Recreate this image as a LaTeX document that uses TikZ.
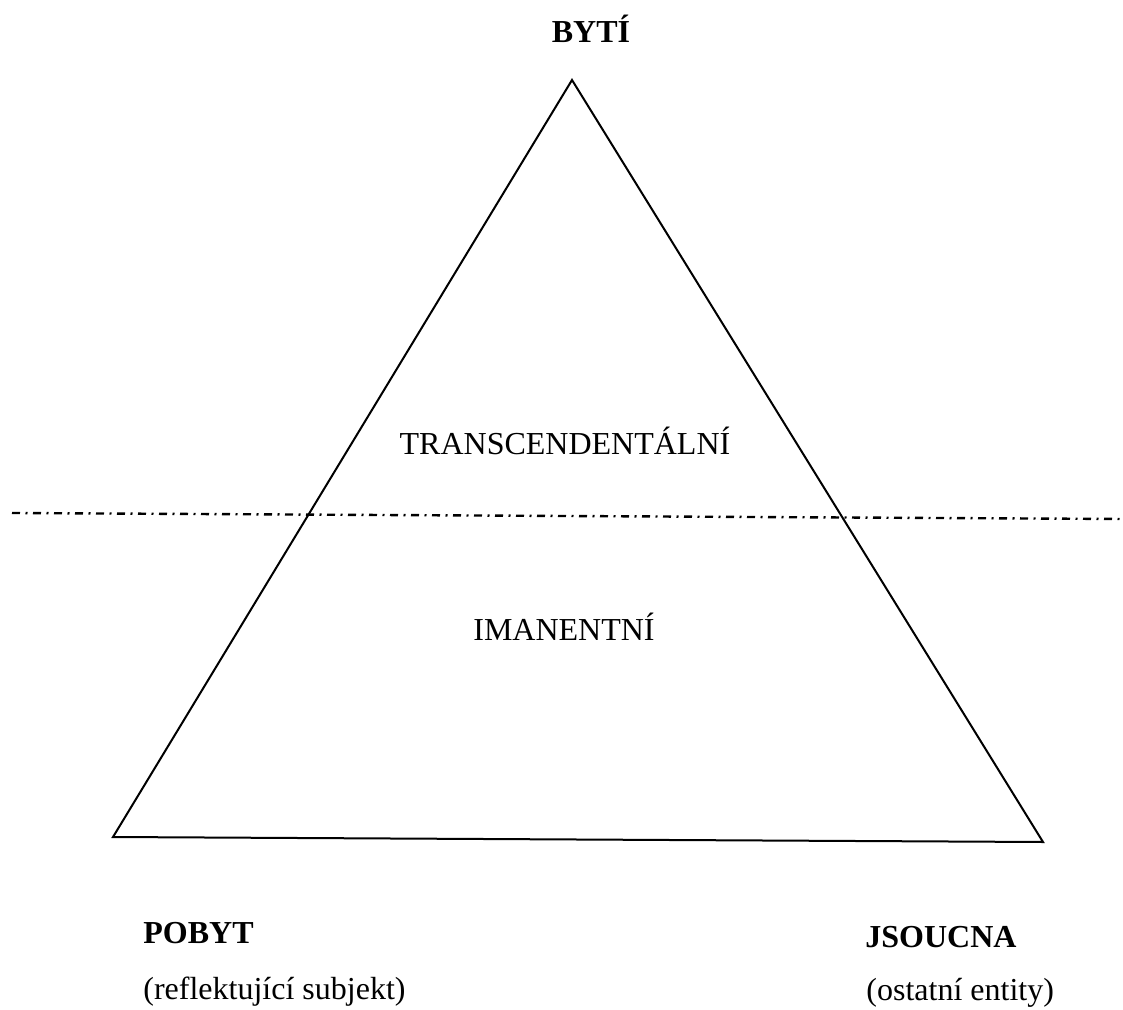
\documentclass[tikz,border=0pt]{standalone}
\usepackage{fontspec}
\setmainfont{Liberation Serif}
\begin{document}
\begin{tikzpicture}[x=0.5pt,y=-0.5pt,
  lbl/.style={inner sep=0pt,font=\fontsize{16}{19}\selectfont},
  head/.style={lbl,font=\fontsize{16}{19}\selectfont\bfseries},
  edge/.style={line width=1pt,line join=miter},
  divider/.style={line width=1.2pt,dash pattern=on 4pt off 2.75pt on 1pt off 2.75pt}]
\useasboundingbox (0,0) rectangle (1123,1010);
\coordinate (apex) at (572,80);
\coordinate (bl) at (113,837);
\coordinate (br) at (1043,842);
\coordinate (dl) at (12,513);
\coordinate (dr) at (1123,519);
\draw[edge] (apex) -- (bl) -- (br) -- cycle;
\draw[divider] (dl) -- (dr);
\node[head,anchor=base] (byti) at (591,43) {BYTÍ};
\node[lbl,anchor=base] (trans) at (565,454) {TRANSCENDENTÁLNÍ};
\node[lbl,anchor=base] (iman) at (564,640) {IMANENTNÍ};
\node[head,anchor=base west] (pobyt) at (143,943) {POBYT};
\node[lbl,anchor=base west] (refl) at (143,999) {(reflektující subjekt)};
\node[head,anchor=base west] (jsoucna) at (865,947) {JSOUCNA};
\node[lbl,anchor=base west] (ost) at (866,1000) {(ostatní entity)};
\end{tikzpicture}
\end{document}
